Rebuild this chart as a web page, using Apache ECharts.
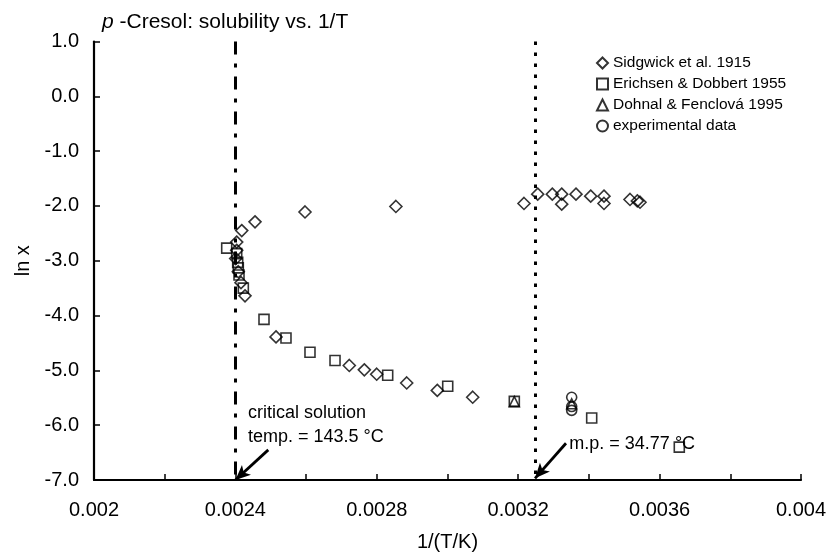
<!DOCTYPE html>
<html><head><meta charset="utf-8">
<script src="https://cdn.jsdelivr.net/npm/echarts@6/dist/echarts.min.js"></script>
<style>html,body{margin:0;padding:0;background:#fff}#c{width:828px;height:555px}</style>
</head><body><div id="c"></div>
<script>
// ---- data ----
const seriesNames = ['Sidgwick et al. 1915', 'Erichsen & Dobbert 1955', 'Dohnal & Fenclová 1995', 'experimental data'];
const sidgwick = [
  [0.0024008,-2.96],[0.0024037,-2.66],[0.0024037,-2.81],[0.0024180,-2.45],[0.0024555,-2.29],
  [0.0025969,-2.11],[0.0028540,-2.01],[0.0032164,-1.955],[0.0032552,-1.785],[0.0032965,-1.785],
  [0.0033231,-1.785],[0.0033231,-1.968],[0.0033635,-1.785],[0.0034051,-1.822],[0.0034427,-1.822],
  [0.0034427,-1.955],[0.0035163,-1.882],[0.0035370,-1.908],[0.0035446,-1.932],
  [0.0024082,-3.20],[0.0024158,-3.40],[0.0024272,-3.64],[0.0025149,-4.39],[0.0027222,-4.91],
  [0.0027647,-4.99],[0.0027997,-5.07],[0.0028846,-5.23],[0.0029711,-5.365],[0.0030713,-5.49]
];
const erichsen = [
  [0.0023754,-2.77],[0.0024037,-2.87],[0.0024065,-3.03],[0.0024082,-3.13],[0.0024102,-3.26],
  [0.0024224,-3.50],[0.0024809,-4.07],[0.0025431,-4.41],[0.0026110,-4.67],[0.0026818,-4.82],
  [0.0028308,-5.09],[0.0030006,-5.29],[0.0031890,-5.566],[0.0034079,-5.87],[0.0036557,-6.40]
];
const dohnal = [[0.0031890,-5.57],[0.0033513,-5.61]];
const experimental = [[0.0033513,-5.49],[0.0033513,-5.66],[0.0033513,-5.73]];
const xTickLabels = ['0.002','0.0024','0.0028','0.0032','0.0036','0.004'];
const yMin = -7, yMax = 1;
const critX = 1/(273.15+143.5);   // critical solution temperature
const mpX = 1/(273.15+34.77);     // melting point
const critText = 'critical solution\ntemp. = 143.5 °C';
const mpText = 'm.p. = 34.77 °C';
const critTextAnchor = [0.0024356, -5.995];
const mpTextAnchor = [0.0033446, -6.339];
const critArrow = [[0.002493, -6.45], [critX, -7.0]];
const mpArrow = [[0.0033352, -6.33], [mpX, -6.97]];

const FONT = "'Liberation Sans', Arial, sans-serif";
const hollow = {color: 'rgba(255,255,255,0)', borderColor: '#000', borderWidth: 1.6};

const chart = echarts.init(document.getElementById('c'), null, {renderer: 'canvas'});
const option = {
  animation: false,
  backgroundColor: '#fff',
  textStyle: {fontFamily: FONT, color: '#000'},
  title: {
    text: '{i|p}{n| -Cresol: solubility vs. 1/T}',
    left: 102, top: 12, padding: 0,
    textStyle: {
      fontWeight: 'normal',
      rich: {
        i: {fontFamily: FONT, fontSize: 21, fontStyle: 'italic', fontWeight: 'normal', color: '#000'},
        n: {fontFamily: FONT, fontSize: 21, fontWeight: 'normal', color: '#000'}
      }
    }
  },
  legend: {
    data: seriesNames,
    orient: 'vertical',
    left: 596, top: 55,
    itemWidth: 11, itemHeight: 11, itemGap: 5,
    padding: 0,
    textStyle: {fontFamily: FONT, fontSize: 15.5, color: '#000', padding: [0,0,0,0]},
    selectedMode: false
  },
  grid: {left: 94, right: 27, top: 41.5, bottom: 75, containLabel: false, outerBoundsMode: 'none'},
  xAxis: {
    type: 'value', min: 0.002, max: 0.004, interval: 0.0002,
    name: '1/(T/K)', nameLocation: 'middle', nameGap: 52,
    nameTextStyle: {fontFamily: FONT, fontSize: 20, color: '#000'},
    axisLine: {show: true, onZero: false, lineStyle: {color: '#000', width: 2.2}},
    axisTick: {show: true, inside: true, length: 6, lineStyle: {color: '#000', width: 1.5}},
    splitLine: {show: false},
    axisLabel: {
      fontFamily: FONT, fontSize: 20, color: '#000', margin: 20,
      formatter: function (v) {
        const idx = Math.round((v - 0.002) / 0.0002);
        return idx % 2 === 0 ? xTickLabels[idx / 2] : '';
      }
    }
  },
  yAxis: {
    type: 'value', min: yMin, max: yMax, interval: 1,
    name: 'ln x', nameLocation: 'middle', nameGap: 58,
    nameTextStyle: {fontFamily: FONT, fontSize: 20, color: '#000'},
    axisLine: {show: true, onZero: false, lineStyle: {color: '#000', width: 2.2}},
    axisTick: {show: true, inside: true, length: 6, lineStyle: {color: '#000', width: 1.5}},
    splitLine: {show: false},
    axisLabel: {fontFamily: FONT, fontSize: 20, color: '#000', margin: 15,
      formatter: v => v.toFixed(1)}
  },
  series: [
    {name: seriesNames[0], type: 'scatter', symbol: 'diamond', symbolSize: 12, data: sidgwick, itemStyle: hollow, z: 5},
    {name: seriesNames[1], type: 'scatter', symbol: 'rect', symbolSize: 10, data: erichsen, itemStyle: hollow, z: 5},
    {name: seriesNames[2], type: 'scatter', symbol: 'triangle', symbolSize: 10, data: dohnal, itemStyle: hollow, z: 5},
    {name: seriesNames[3], type: 'scatter', symbol: 'circle', symbolSize: 10, data: experimental, itemStyle: hollow, z: 5},
    {
      name: 'lines', type: 'scatter', data: [], silent: true,
      markLine: {
        silent: true, animation: false, symbol: ['none', 'none'],
        label: {show: false}, emphasis: {disabled: true},
        data: [
          [{coord: [critX, yMax], lineStyle: {color: '#000', width: 3, type: [13, 9, 4, 9]}}, {coord: [critX, yMin]}],
          [{coord: [mpX, yMax], lineStyle: {color: '#000', width: 3, type: [3.5, 7.5]}}, {coord: [mpX, yMin]}]
        ]
      }
    },
    {
      name: 'arrows', type: 'scatter', data: [], silent: true,
      markLine: {
        silent: true, animation: false, symbol: ['none', 'arrow'], symbolSize: [10, 15],
        label: {show: false}, emphasis: {disabled: true},
        lineStyle: {color: '#000', width: 2.8, type: 'solid'},
        data: [
          [{coord: critArrow[0]}, {coord: critArrow[1]}],
          [{coord: mpArrow[0]}, {coord: mpArrow[1]}]
        ]
      }
    }
  ]
};
chart.setOption(option);
const pc = chart.convertToPixel({gridIndex: 0}, critTextAnchor);
const pm = chart.convertToPixel({gridIndex: 0}, mpTextAnchor);
chart.setOption({
  graphic: [
    {type: 'text', x: pc[0], y: pc[1], z: 10, silent: true,
     style: {text: critText, font: "18px 'Liberation Sans', Arial, sans-serif", fill: '#000',
             verticalAlign: 'middle', align: 'left', lineHeight: 24}},
    {type: 'text', x: pm[0], y: pm[1], z: 10, silent: true,
     style: {text: mpText, font: "18px 'Liberation Sans', Arial, sans-serif", fill: '#000',
             verticalAlign: 'middle', align: 'left'}}
  ]
});
</script>
</body></html>
